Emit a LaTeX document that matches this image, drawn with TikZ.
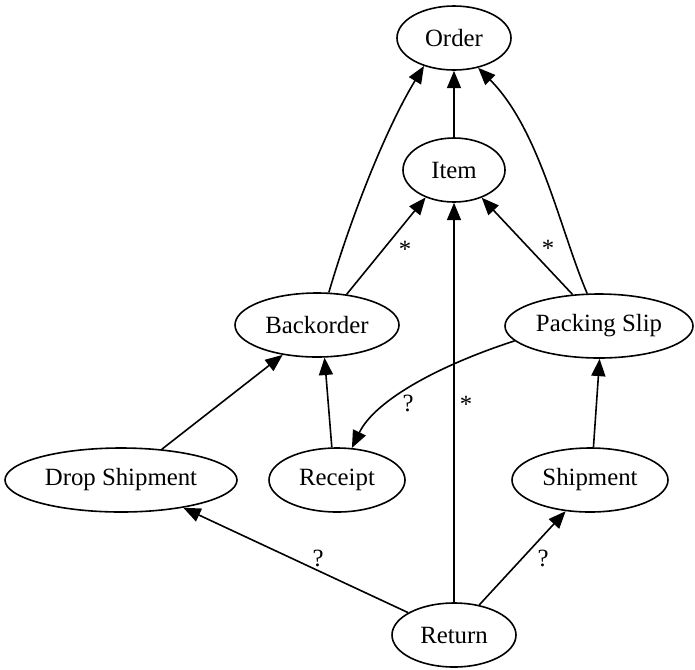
\documentclass[tikz,border=0pt]{standalone}
\usepackage{fontspec}
\setmainfont{Liberation Serif}
\usetikzlibrary{shapes.geometric,arrows.meta}
\begin{document}
\begin{tikzpicture}[x=0.75pt,y=-0.75pt,
  nd/.style={ellipse,draw,line width=1.2pt,inner sep=0pt,minimum height=48pt,font=\fontsize{18.6}{20}\selectfont},
  arr/.style={line width=1.2pt,-{Triangle[length=13pt,width=10.5pt]}},
  lbl/.style={font=\fontsize{18.6}{20}\selectfont,inner sep=0pt,anchor=base}]
\useasboundingbox (0,0) rectangle (695,669);
\node[nd,minimum width=85.5pt] (order) at (454,38) {Order};
\node[nd,minimum width=76.5pt] (item) at (454,170) {Item};
\node[nd,minimum width=123pt] (bo) at (317,325) {Backorder};
\node[nd,minimum width=141pt] (ps) at (599,326) {Packing Slip};
\node[nd,minimum width=174pt] (ds) at (121,480) {Drop Shipment};
\node[nd,minimum width=102pt] (rc) at (337,480) {Receipt};
\node[nd,minimum width=117pt] (sh) at (590,480) {Shipment};
\node[nd,minimum width=93pt] (ret) at (454,635) {Return};

\draw[arr] (item.north) -- (order.south);
\draw[arr] (bo.70) .. controls (350,220) and (385,130) .. (order.223);
\draw[arr] (ps.110) .. controls (560,230) and (540,130) .. (order.309);
\draw[arr] (bo.46) -- (item.224);
\draw[arr] (ret.north) -- (item.south);
\draw[arr] (ps.130) -- (item.315);
\draw[arr] (ds.37) -- (bo.221);
\draw[arr] (rc.99) -- (bo.283);
\draw[arr] (ps.190) .. controls (440,365) and (375,400) .. (rc.65);
\draw[arr] (sh.84) -- (ps.271);
\draw[arr] (ret.154) -- (ds.336);
\draw[arr] (ret.50) -- (sh.232);

\node[lbl] (l1) at (405,257) {*};
\node[lbl] (l2) at (548,256) {*};
\node[lbl] (l3) at (466,412) {*};
\node[lbl] (l4) at (408,411) {?};
\node[lbl] (l5) at (318,566) {?};
\node[lbl] (l6) at (543,566) {?};
\end{tikzpicture}
\end{document}
